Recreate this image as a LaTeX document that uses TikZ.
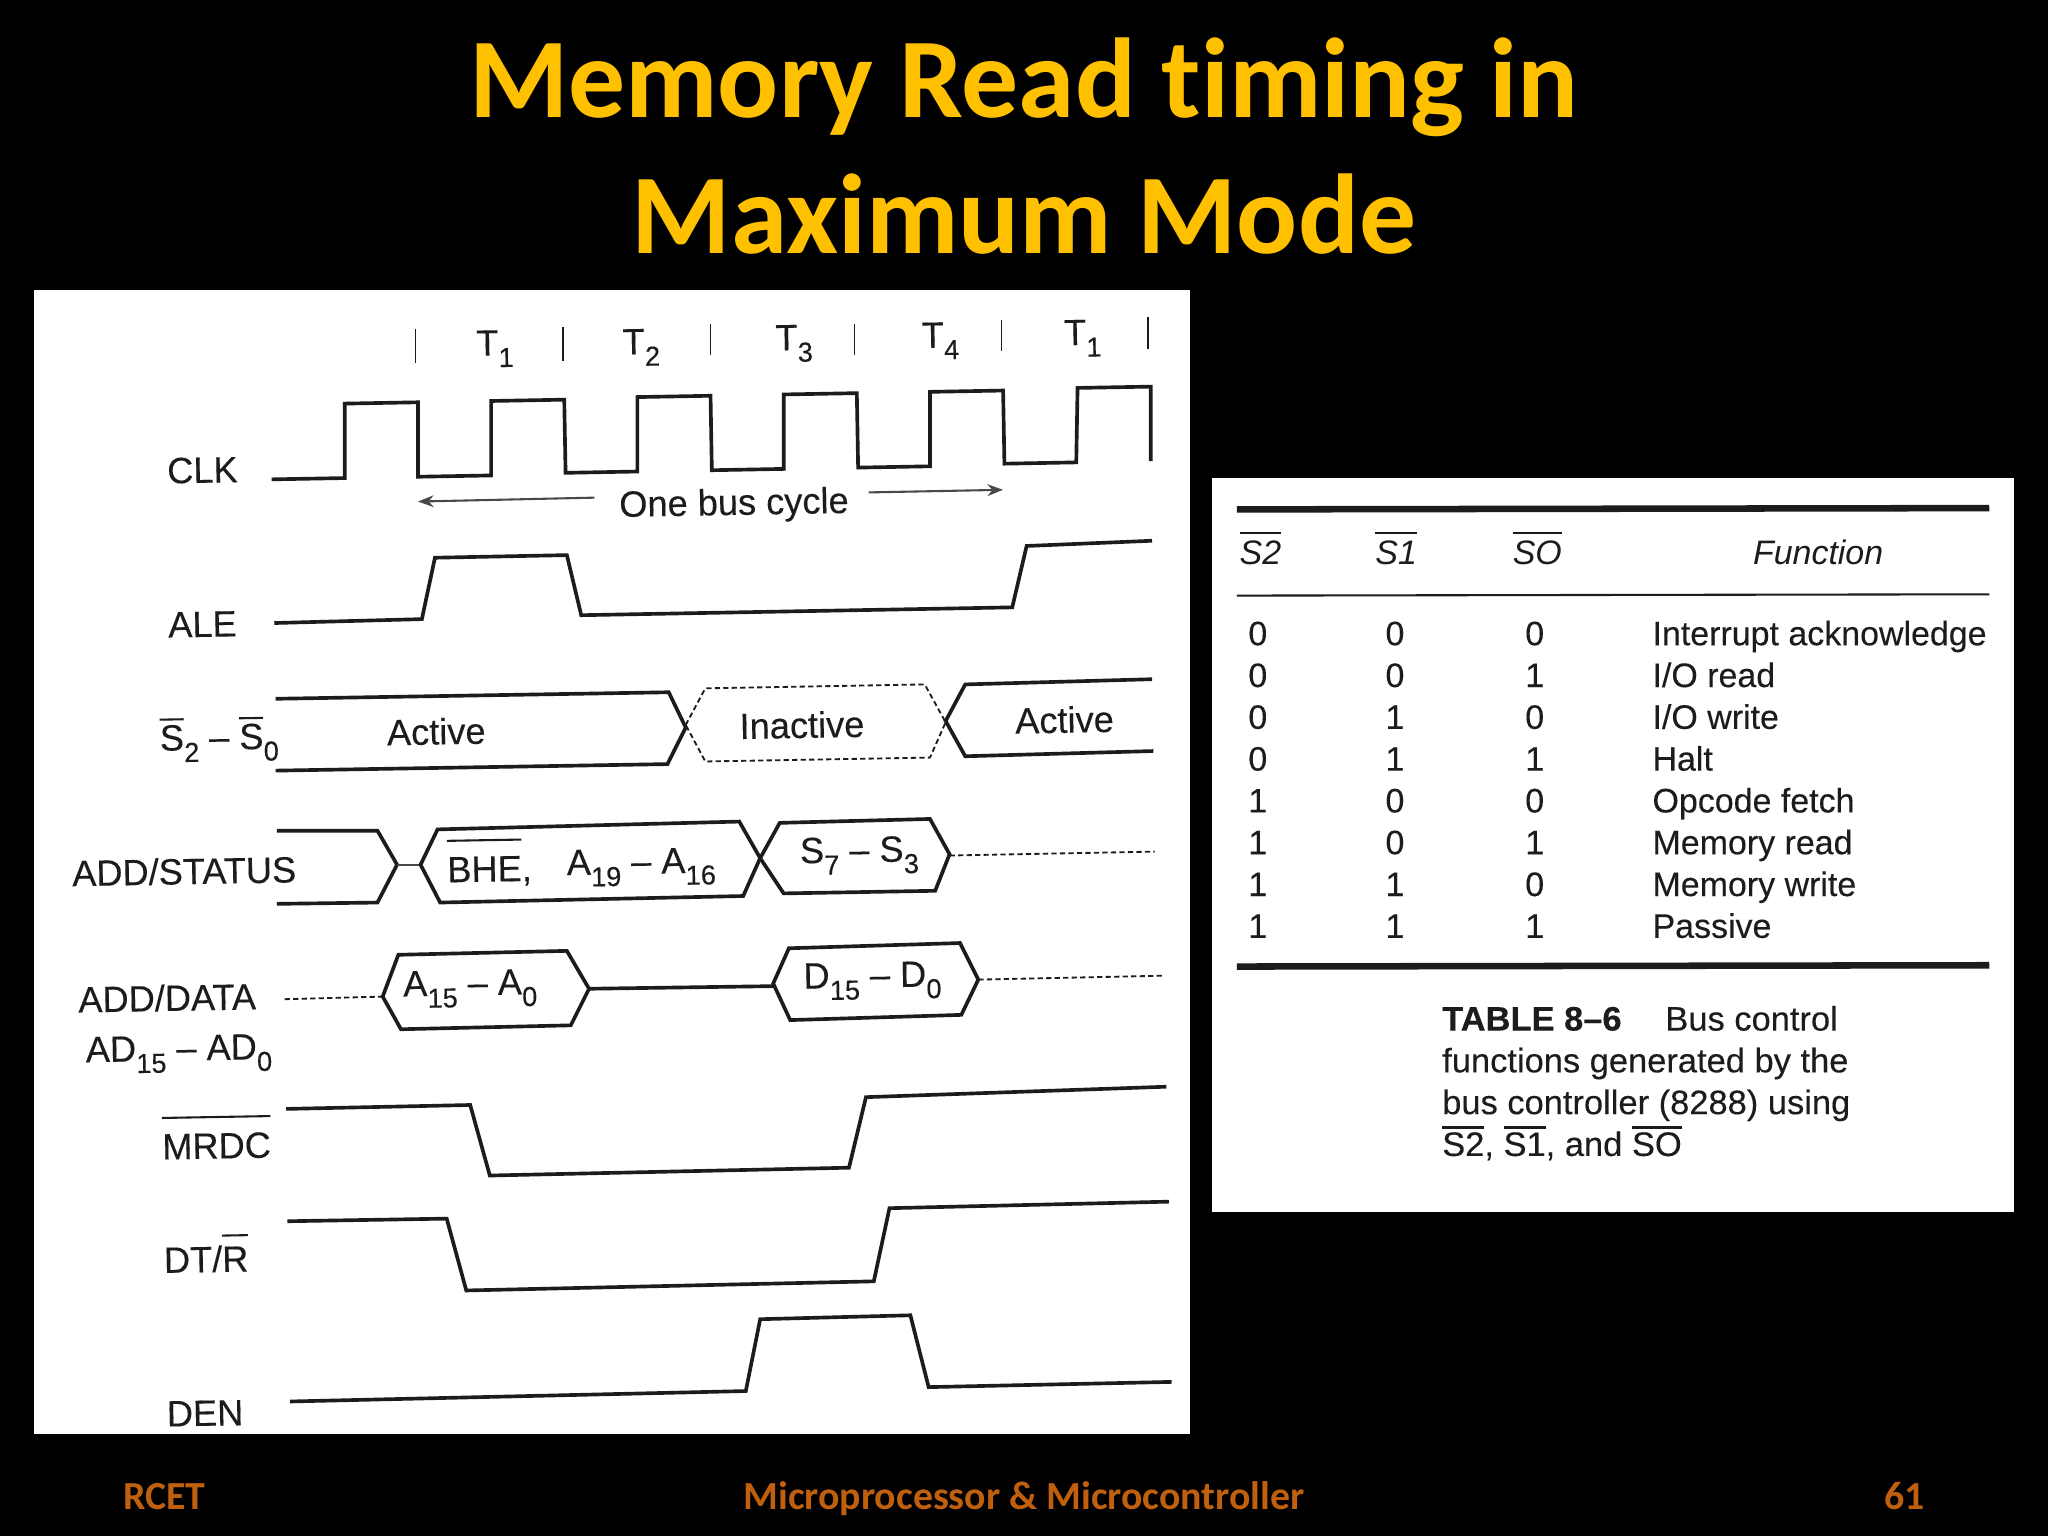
\documentclass[tikz,border=0pt]{standalone}
\usepackage{fontspec}
\setmainfont{Liberation Sans}
\newfontfamily\titlefont[Ligatures=NoCommon]{Carlito}
\newfontfamily\scanfont[FakeBold=0.2]{Liberation Sans}
\usetikzlibrary{arrows.meta}
\definecolor{titlecol}{HTML}{FFC000}
\definecolor{footcol}{HTML}{C0600F}
\definecolor{ink}{HTML}{1C1C1C}
\newcommand{\sbs}[1]{\raisebox{-0.32em}{\fontsize{21}{21}\selectfont #1}}
% bar of given height above the baseline, over the given text
\newcommand{\obr}[2]{\setbox0=\hbox{#2}\rlap{\raisebox{#1}{\rule{\wd0}{1.6pt}}}\box0 }
\tikzset{
 x=1pt,y=-1pt,
 sig/.style={draw=ink,line width=2.8pt,line join=miter},
 thin sig/.style={draw=ink!80,line width=1.6pt},
 dash sig/.style={draw=ink,line width=1.4pt,dash pattern=on 4pt off 2.5pt},
 tick/.style={draw=ink,line width=1pt},
 lab/.style={text=ink,font=\scanfont\fontsize{28}{30}\selectfont,inner sep=0pt,rotate=1,xscale=.99},
 tlab/.style={text=ink,font=\scanfont\fontsize{26}{28}\selectfont,inner sep=0pt},
 rowl/.style={tlab,anchor=base west},
 numl/.style={tlab,anchor=base},
 headl/.style={text=ink,font=\fontsize{26}{28}\selectfont\itshape,inner sep=0pt,anchor=base},
 title/.style={text=titlecol,font=\titlefont\bfseries\fontsize{87}{87}\selectfont,inner sep=0pt,anchor=base},
 foot/.style={text=footcol,font=\titlefont\bfseries\fontsize{30.5}{30.5}\selectfont,inner sep=0pt},
}
\begin{document}
\begin{tikzpicture}
\useasboundingbox (0,0) rectangle (1568,1176);
\fill[black] (0,0) rectangle (1568,1176);
\fill[white] (26,222) rectangle (911,1098);
\fill[white] (928,366) rectangle (1542,928);
\node[title] (t1) at (784,90) {Memory Read timing in};
\node[title] (t2) at (784,194) {Maximum Mode};
\node[foot,anchor=base west] (f1) at (94,1156) {RCET};
\node[foot,anchor=base] (f2) at (784,1156) {Microprocessor \& Microcontroller};
\node[foot,anchor=base east] (f3) at (1474,1156) {61};
% ticks
\draw[tick] (318,252)--(318,278) (431,250)--(431,276) (544,248)--(544,272) (654,248)--(654,272) (767,245)--(767,269) (879,243)--(879,267);
\node[lab] (n1) at (379,267) {T\sbs{1}};
\node[lab] (n2) at (491,266) {T\sbs{2}};
\node[lab] (n3) at (608,263) {T\sbs{3}};
\node[lab] (n4) at (720,261) {T\sbs{4}};
\node[lab] (n5) at (829,259) {T\sbs{1}};
% CLK
\draw[sig] (208,367)--(264,366)--(264,309)--(320,308)--(320,365)--(376,364)--(376,307)--(432,306)--(433,362)--(488,361)--(488,304)--(544,303)--(545,360)--(600,359)--(600,302)--(656,301)--(657,358)--(712,357)--(712,300)--(768,299)--(769,355)--(824,354)--(825,297)--(881,296)--(881,353);
\node[lab] (clk) at (155,360) {CLK};
\node[lab] (bus) at (562,387) {One bus cycle};
\coordinate (al) at (320,384); \coordinate (ar) at (768,375);
\draw[thin sig,-{Stealth[length=12pt,width=9pt]}] (455,381)--(al);
\draw[thin sig,-{Stealth[length=12pt,width=9pt]}] (665,377)--(ar);
% ALE
\draw[sig] (210,477)--(323,474)--(333,427)--(434,425)--(445,471)--(775,465)--(786,418)--(882,414);
\node[lab] (ale) at (155,478) {ALE};
% S2-S0
\draw[sig] (211,535)--(512,530)--(525,557)--(511,585)--(211,590);
\draw[dash sig] (525,555)--(540,527)--(708,524)--(724,553)--(712,580)--(540,583)--cycle;
\draw[sig] (882,520)--(739,524)--(724,552)--(739,579)--(883,575);
\node[lab,anchor=base] (s) at (168,574) {\obr{23pt}{S}\sbs{2} – \obr{23pt}{S}\sbs{0}};
\node[lab] (a1) at (334,560) {Active};
\node[lab] (i1) at (614,555) {Inactive};
\node[lab] (a2) at (815,551) {Active};
% ADD/STATUS
\draw[sig] (212,636)--(289,636)--(304,662)--(289,691)--(212,692);
\draw[thin sig] (304,662)--(322,662);
\draw[sig] (322,662)--(335,635)--(566,629)--(582,657)--(569,686)--(337,691)--cycle;
\draw[sig] (582,657)--(597,630)--(712,627)--(727,654)--(716,682)--(600,684)--cycle;
\draw[dash sig] (727,655)--(884,652);
\node[lab] (as) at (141,667) {ADD/STATUS};
\node[lab,anchor=base] (bhe) at (375,675) {\obr{31pt}{BHE},};
\node[lab] (a19) at (491,664) {A\sbs{19} – A\sbs{16}};
\node[lab] (s7) at (658,655) {S\sbs{7} – S\sbs{3}};
% ADD/DATA
\draw[dash sig] (218,765)--(293,763);
\draw[sig] (293,763)--(305,731)--(434,728)--(451,757)--(437,785)--(307,788)--cycle;
\draw[sig] (451,757)--(592,755);
\draw[sig] (592,753)--(604,726)--(735,722)--(749,750)--(736,777)--(605,781)--cycle;
\draw[dash sig] (749,750)--(891,747);
\node[lab] (ad) at (128,764) {ADD/DATA};
\node[lab] (ad2) at (137,807) {AD\sbs{15} – AD\sbs{0}};
\node[lab] (a15) at (360,757) {A\sbs{15} – A\sbs{0}};
\node[lab] (d15) at (668,751) {D\sbs{15} – D\sbs{0}};
% MRDC etc
\draw[sig] (219,849)--(360,846)--(375,900)--(650,894)--(663,840)--(893,832);
\node[lab,anchor=base] (mrdc) at (166,887) {\obr{31pt}{MRDC}};
\draw[sig] (220,935)--(342,933)--(357,988)--(669,981)--(681,925)--(895,920);
\node[lab,anchor=base] (dtr) at (158,974) {DT/\obr{27pt}{R}};
\draw[sig] (222,1073)--(571,1065)--(582,1010)--(697,1007)--(711,1062)--(897,1058);
\node[lab] (den) at (157,1082) {DEN};
% table
\draw[draw=ink,line width=5pt] (947,390)--(1523,389);
\draw[draw=ink,line width=1.6pt] (947,456)--(1523,455);
\draw[draw=ink,line width=5pt] (947,740)--(1523,739);
\node[headl] (h1) at (965,432) {\obr{23pt}{S2}};
\node[headl] (h2) at (1069,432) {\obr{23pt}{S1}};
\node[headl] (h3) at (1177,432) {\obr{23pt}{SO}};
\node[headl] (h4) at (1392,432) {Function};
\foreach \yy/\a/\b/\c/\t in {494/0/0/0/Interrupt acknowledge,526/0/0/1/I\slash O read,558/0/1/0/I\slash O write,590/0/1/1/Halt,622/1/0/0/Opcode fetch,654/1/0/1/Memory read,686/1/1/0/Memory write,718/1/1/1/Passive}{
 \node[numl] (ra\yy) at (963,\yy) {\a};
 \node[numl] (rb\yy) at (1068,\yy) {\b};
 \node[numl] (rc\yy) at (1175,\yy) {\c};
 \node[rowl] (rt\yy) at (1265,\yy) {\t};
}
\node[rowl,xscale=1.015] (c1) at (1104,789) {\textbf{TABLE 8–6}\hspace{33pt}Bus control};
\node[rowl,xscale=1.015] (c2) at (1104,821) {functions generated by the};
\node[rowl,xscale=1.015] (c3) at (1104,853) {bus controller (8288) using};
\node[rowl,xscale=1.015] (c4) at (1104,885) {\obr{21pt}{S2}, \obr{21pt}{S1}, and \obr{21pt}{SO}};
\end{tikzpicture}
\end{document}
